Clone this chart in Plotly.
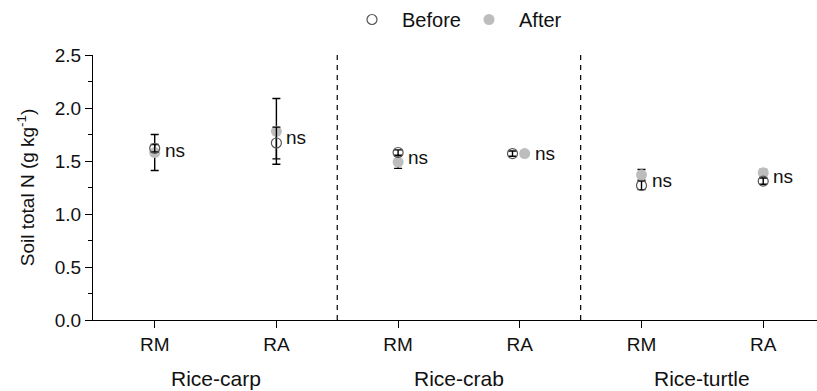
import plotly.graph_objects as go

# ---- data ----
groups = ["Rice-carp", "Rice-crab", "Rice-turtle"]
treatments = ["RM", "RA", "RM", "RA", "RM", "RA"]
before_mean = [1.62, 1.67, 1.58, 1.57, 1.27, 1.31]
before_err = [0.035, 0.15, 0.025, 0.025, 0.04, 0.03]
after_mean = [1.58, 1.78, 1.49, 1.57, 1.37, 1.39]
after_err = [0.17, 0.31, 0.06, 0.025, 0.05, 0.03]
before_offset = [0, 0, 0, -0.06, 0, 0]
after_offset = [0, 0, 0, 0.04, 0, 0]
sig_labels = ["ns", "ns", "ns", "ns", "ns", "ns"]
y_ticks = [0.0, 0.5, 1.0, 1.5, 2.0, 2.5]

FONT = "Arial, Liberation Sans, sans-serif"
TXT = "#111111"

xpos = list(range(len(treatments)))
xb = [x + o for x, o in zip(xpos, before_offset)]
xa = [x + o for x, o in zip(xpos, after_offset)]

fig = go.Figure()
fig.add_trace(go.Scatter(
    x=xa, y=after_mean, mode="markers", name="After",
    marker=dict(symbol="circle", size=11, color="#bdbdbd", line=dict(width=0)),
    error_y=dict(type="data", array=after_err, color="black", thickness=1.4, width=4),
    legendrank=2,
))
fig.add_trace(go.Scatter(
    x=xb, y=before_mean, mode="markers", name="Before",
    marker=dict(symbol="circle-open", size=10, color="#555555", line=dict(width=1.2)),
    error_y=dict(type="data", array=before_err, color="black", thickness=1.4, width=4),
    legendrank=1,
))

# dashed separators between groups
for sep in [1.5, 3.5]:
    fig.add_shape(type="line", x0=sep, x1=sep, y0=0, y1=y_ticks[-1], xref="x", yref="y",
                  line=dict(color="black", width=1.2, dash="5px,5px"))

# significance labels
for i, lab in enumerate(sig_labels):
    ym = (before_mean[i] + after_mean[i]) / 2
    fig.add_annotation(x=max(xb[i], xa[i]), y=ym, text=lab, showarrow=False,
                       xanchor="left", yanchor="middle", xshift=8,
                       font=dict(family=FONT, size=19, color=TXT))

# group labels
for g, name in enumerate(groups):
    fig.add_annotation(x=2 * g + 0.5, y=-0.22, xref="x", yref="paper", text=name,
                       showarrow=False, xanchor="center", yanchor="middle",
                       font=dict(family=FONT, size=21, color=TXT))

fig.update_layout(
    width=817, height=391,
    margin=dict(l=93, r=0, t=55, b=71),
    plot_bgcolor="white", paper_bgcolor="white",
    font=dict(family=FONT, size=19, color=TXT),
    showlegend=True,
    legend=dict(orientation="h", x=0.4186, xref="container", xanchor="left",
                y=1.0, yref="container", yanchor="top",
                font=dict(family=FONT, size=20, color=TXT),
                itemwidth=50, entrywidth=52, entrywidthmode="pixels",
                bgcolor="rgba(0,0,0,0)"),
    xaxis=dict(range=[-0.507, 5.442], tickmode="array", tickvals=xpos, ticktext=treatments,
               showgrid=False, zeroline=False, showline=True, linecolor="black", linewidth=1.3,
               ticks="outside", ticklen=7, tickwidth=1.3, tickcolor="black",
               tickfont=dict(family=FONT, size=19, color=TXT)),
    yaxis=dict(range=[0, 2.5], tickmode="array", tickvals=y_ticks,
               ticktext=[f"{v:.1f}" for v in y_ticks],
               showgrid=False, zeroline=False, showline=True, linecolor="black", linewidth=1.3,
               ticks="outside", ticklen=7, tickwidth=1.3, tickcolor="black",
               minor=dict(ticks="outside", ticklen=4, dtick=0.25, tick0=0, tickcolor="black", tickwidth=1.2),
               tickfont=dict(family=FONT, size=19, color=TXT),
               title=dict(text="Soil total N (g kg<sup>-1</sup>)", standoff=14,
                          font=dict(family=FONT, size=19, color=TXT))),
)

fig.write_html("out.html")
